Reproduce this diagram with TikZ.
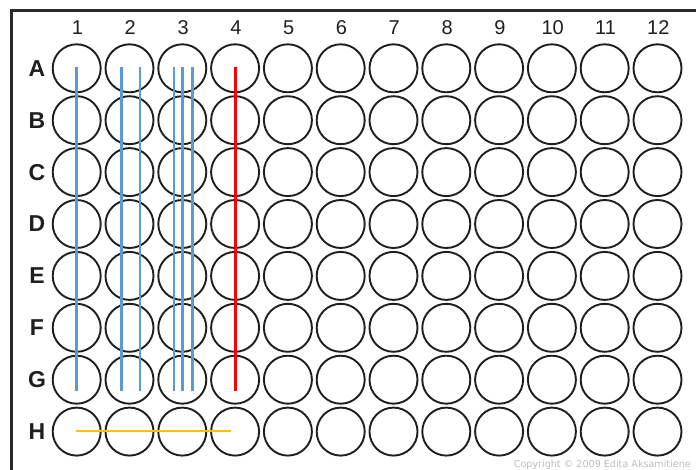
\documentclass[tikz,border=0pt]{standalone}
\usepackage{fontspec}
\setmainfont{Liberation Sans}
\newfontfamily\copyfont{DejaVu Sans}
\usetikzlibrary{calc}
\definecolor{wellline}{HTML}{1E1E1E}
\definecolor{frameline}{HTML}{2A2A2A}
\definecolor{blueline}{HTML}{5B9BD5}
\definecolor{redline}{HTML}{FF0000}
\definecolor{orangeline}{HTML}{FFC000}
\definecolor{copygray}{HTML}{BDBDBD}
\tikzset{
  well/.style={circle, draw=wellline, line width=1.9pt, minimum size=48pt, inner sep=0pt},
  collabel/.style={font=\fontsize{20pt}{20pt}\selectfont, text=black!88, inner sep=0pt},
  rowlabel/.style={font=\fontsize{23pt}{23pt}\selectfont\bfseries, text=black!88, inner sep=0pt},
  bluestroke/.style={draw=blueline, line width=2.6pt},
  redstroke/.style={draw=redline, line width=2.6pt},
  orangestroke/.style={draw=orangeline, line width=2.8pt},
  framestroke/.style={draw=frameline, line width=2.8pt}
}
\begin{document}
\begin{tikzpicture}[x=1pt,y=-1pt]
\useasboundingbox (0,0) rectangle (696,470);
\fill[white] (0,0) rectangle (696,470);
% frame (top and left edges)
\coordinate (fbl) at (11.5,470);
\coordinate (ftl) at (11.5,10.5);
\coordinate (ftr) at (696,10.5);
\draw[framestroke] (fbl) -- (ftl) -- (ftr);
% wells
\foreach \r [count=\j from 0] in {A,B,C,D,E,F,G,H}{
  \node[rowlabel] (row\r) at (37,{68.3+51.9*\j}) {\r};
  \foreach \c in {1,...,12}{
    \node[well] (w\r\c) at ({76.7+52.8*(\c-1)},{68.3+51.9*\j}) {};
  }
}
\foreach \c in {1,...,12}{
  \node[collabel] (col\c) at ({77.5+52.8*(\c-1)},28) {\c};
}
% blue lines
\draw[bluestroke] ($(wA1)+(0,-1.6)$) -- ($(wG1)+(0,11)$);
\draw[bluestroke] ($(wA2)+(-8,-1.6)$) -- ($(wG2)+(-8,11)$);
\draw[bluestroke] ($(wA2)+(10.3,-1.6)$) -- ($(wG2)+(10.3,11)$);
\draw[bluestroke] ($(wA3)+(-8.4,-1.6)$) -- ($(wG3)+(-8.4,11)$);
\draw[bluestroke] ($(wA3)+(0,-1.6)$) -- ($(wG3)+(0,11)$);
\draw[bluestroke] ($(wA3)+(10.3,-1.6)$) -- ($(wG3)+(10.3,11)$);
% red line
\draw[redstroke] ($(wA4)+(0.3,-1.6)$) -- ($(wG4)+(0.3,11)$);
% orange line
\draw[orangestroke] ($(wH1)+(-0.7,-0.7)$) -- ($(wH4)+(-4.3,-0.7)$);
% copyright
\node[anchor=base east, inner sep=0pt, font=\copyfont\fontsize{9.6pt}{9.6pt}\selectfont, text=copygray] (copy) at (691,467) {Copyright © 2009 Edita Aksamitiene};
\end{tikzpicture}
\end{document}
